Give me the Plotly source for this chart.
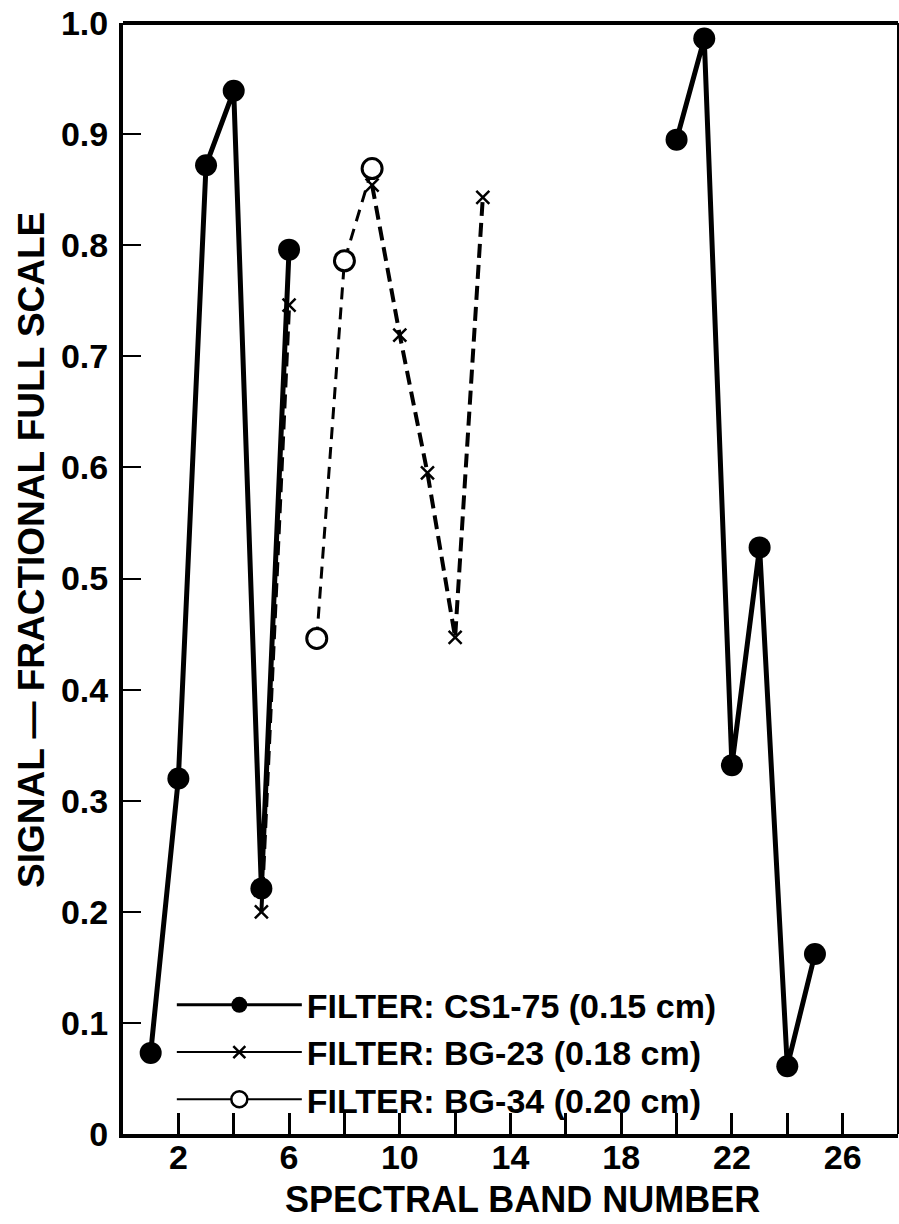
import plotly.graph_objects as go

# ---- data ----
cs_x = [1, 2, 3, 4, 5, 6, None, 20, 21, 22, 23, 24, 25]
cs_y = [0.073, 0.32, 0.872, 0.939, 0.221, 0.796, None, 0.895, 0.986, 0.332, 0.528, 0.061, 0.162]

bg23_x = [5, 6, None, 9, 10, 11, 12, 13]
bg23_y = [0.200, 0.746, None, 0.854, 0.719, 0.595, 0.447, 0.843]

bg34_x = [7, 8, 9]
bg34_y = [0.446, 0.786, 0.869]

names = ["FILTER: CS1-75 (0.15 cm)", "FILTER: BG-23 (0.18 cm)", "FILTER: BG-34 (0.20 cm)"]

y_ticks = [0, 0.1, 0.2, 0.3, 0.4, 0.5, 0.6, 0.7, 0.8, 0.9, 1.0]
y_labels = ["0", "0.1", "0.2", "0.3", "0.4", "0.5", "0.6", "0.7", "0.8", "0.9", "1.0"]
x_ticks = [2, 6, 10, 14, 18, 22, 26]

FONT = "Liberation Sans, Arial, Helvetica, sans-serif"

fig = go.Figure()

# data traces
fig.add_trace(go.Scatter(
    x=bg34_x, y=bg34_y, mode="lines+markers", showlegend=False,
    line=dict(color="black", width=3, dash="12px,8px"),
    marker=dict(symbol="circle", size=20, color="white", line=dict(color="black", width=3)),
))
fig.add_trace(go.Scatter(
    x=bg23_x, y=bg23_y, mode="lines+markers", showlegend=False,
    line=dict(color="black", width=4, dash="14px,7px"),
    marker=dict(symbol="x-thin", size=13, color="black", line=dict(color="black", width=2.5)),
))
fig.add_trace(go.Scatter(
    x=cs_x, y=cs_y, mode="lines+markers", showlegend=False,
    line=dict(color="black", width=5),
    marker=dict(symbol="circle", size=22, color="black"),
))

# legend entries (solid keys, as in the reference legend)
fig.add_trace(go.Scatter(
    x=[None], y=[None], mode="lines+markers", name=names[0],
    line=dict(color="black", width=3),
    marker=dict(symbol="circle", size=16, color="black"),
))
fig.add_trace(go.Scatter(
    x=[None], y=[None], mode="lines+markers", name=names[1],
    line=dict(color="black", width=2),
    marker=dict(symbol="x-thin", size=12, color="black", line=dict(color="black", width=2.5)),
))
fig.add_trace(go.Scatter(
    x=[None], y=[None], mode="lines+markers", name=names[2],
    line=dict(color="black", width=2),
    marker=dict(symbol="circle", size=16, color="white", line=dict(color="black", width=2.5)),
))

fig.update_layout(
    width=899, height=1224,
    margin=dict(l=123, r=1, t=23, b=90),
    plot_bgcolor="white", paper_bgcolor="white",
    font=dict(family=FONT, color="black"),
    legend=dict(
        x=0.063, y=0.142, xanchor="left", yanchor="top",
        bgcolor="rgba(0,0,0,0)", borderwidth=0,
        font=dict(family=FONT, size=34, weight="bold", color="black"),
        itemwidth=125, tracegroupgap=0,
    ),
    xaxis=dict(
        range=[0, 28], showgrid=False, zeroline=False,
        showline=True, linecolor="black", linewidth=4,
        tickmode="array", tickvals=x_ticks, ticktext=[str(v) for v in x_ticks],
        ticks="inside", ticklen=21, tickwidth=3, tickcolor="black",
        minor=dict(dtick=2, tick0=0, ticks="inside", ticklen=21, tickwidth=3, tickcolor="black", showgrid=False),
        tickfont=dict(family=FONT, size=34, weight="bold", color="black"),
        ticklabelstandoff=-10,
    ),
    yaxis=dict(
        range=[0, 1.0], showgrid=False, zeroline=False,
        showline=True, linecolor="black", linewidth=4,
        tickmode="array", tickvals=y_ticks, ticktext=y_labels,
        ticks="inside", ticklen=18, tickwidth=2, tickcolor="black",
        tickfont=dict(family=FONT, size=34, weight="bold", color="black"),
        ticklabelstandoff=4,
    ),
    shapes=[
        dict(type="line", xref="paper", yref="paper", x0=0, x1=1, y0=1, y1=1,
             line=dict(color="black", width=4)),
        dict(type="line", xref="paper", yref="paper", x0=1, x1=1, y0=0, y1=1,
             line=dict(color="black", width=2)),
    ],
    annotations=[
        dict(text="SPECTRAL BAND NUMBER", xref="paper", yref="paper",
             x=(522 - 123) / 775, y=-(1199 - 1134) / 1111, xanchor="center", yanchor="middle",
             showarrow=False, font=dict(family=FONT, size=36, weight="bold", color="black")),
        dict(text="SIGNAL \u2014 FRACTIONAL FULL SCALE", xref="paper", yref="paper",
             x=-(123 - 32) / 775, y=(1134 - 550) / 1111, xanchor="center", yanchor="middle",
             textangle=-90, showarrow=False,
             font=dict(family=FONT, size=37, weight="bold", color="black")),
    ],
)

fig.write_html("out.html")
